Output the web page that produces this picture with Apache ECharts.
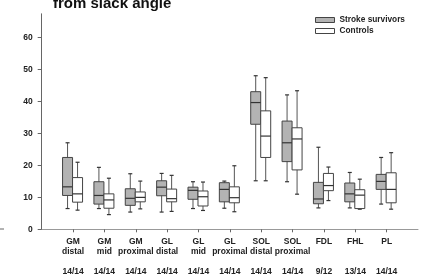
<!DOCTYPE html>
<html>
<head>
<meta charset="utf-8">
<script src="https://cdn.jsdelivr.net/npm/echarts@6/dist/echarts.min.js"></script>
<style>
html, body { margin: 0; padding: 0; background: #fff; }
#chart { width: 422px; height: 279px; }
</style>
</head>
<body>
<div id="chart"></div>
<script>
// muscle sites, counts under each
const categories = ["GM\ndistal", "GM\nmid", "GM\nproximal", "GL\ndistal", "GL\nmid", "GL\nproximal",
  "SOL\ndistal", "SOL\nproximal", "FDL", "FHL", "PL"]
const counts = ["14/14", "14/14", "14/14", "14/14", "14/14", "14/14", "14/14", "14/14", "9/12", "13/14", "14/14"]

// [min, q1, median, q3, max]
const stroke = [
  [6.5, 10.6, 13.3, 22.5, 27.1],
  [6.5, 7.9, 10.6, 14.9, 19.4],
  [5.4, 7.5, 9.7, 12.7, 17.4],
  [5.4, 10.5, 13.2, 15.2, 17.5],
  [6.5, 9.4, 12.2, 13.2, 14.9],
  [6.6, 8.6, 12.5, 14.6, 15.1],
  [15.2, 32.9, 39.7, 43.1, 48.1],
  [14.9, 21.2, 27.1, 33.9, 42.1],
  [6.7, 8.0, 9.5, 14.7, 25.7],
  [6.7, 8.6, 11.1, 14.5, 17.8],
  [7.9, 12.5, 15.0, 17.2, 22.5]
]
const controls = [
  [6.0, 8.5, 11.1, 16.2, 21.0],
  [4.6, 6.6, 9.2, 11.1, 16.0],
  [6.4, 8.6, 10.0, 11.7, 15.1],
  [5.6, 8.6, 9.6, 12.6, 16.9],
  [5.9, 7.3, 10.2, 12.0, 14.8],
  [5.5, 8.3, 9.9, 13.3, 19.9],
  [15.2, 22.5, 29.2, 37.1, 47.5],
  [11.0, 18.6, 28.3, 31.8, 43.4],
  [9.0, 12.1, 13.7, 17.5, 19.5],
  [6.3, 6.5, 10.7, 12.4, 15.7],
  [6.3, 8.3, 12.5, 17.7, 24.0]
]
const yTicks = [0, 10, 20, 30, 40, 50, 60]

// empty slots at both ends give the axis its padding
const axisCats = [" "].concat(categories, ["  "])
const lastIdx = axisCats.length - 1

function boxRenderer(offset, fill) {
  return function (params, api) {
    const x = api.value(0)
    const pMin = api.coord([x, api.value(1)])
    const pQ1 = api.coord([x, api.value(2)])
    const pMed = api.coord([x, api.value(3)])
    const pQ3 = api.coord([x, api.value(4)])
    const pMax = api.coord([x, api.value(5)])
    const left = pMin[0] + offset
    const w = 10
    const cx = left + w / 2
    const line = { stroke: "#555", lineWidth: 1 }
    return {
      type: "group",
      children: [
        { type: "line", shape: { x1: cx, y1: pMax[1], x2: cx, y2: pMin[1] }, style: line },
        { type: "line", shape: { x1: cx - 2, y1: pMax[1], x2: cx + 2, y2: pMax[1] }, style: { stroke: "#333", lineWidth: 1.2 } },
        { type: "line", shape: { x1: cx - 2, y1: pMin[1], x2: cx + 2, y2: pMin[1] }, style: { stroke: "#333", lineWidth: 1.2 } },
        { type: "rect", shape: { x: left, y: pQ3[1], width: w, height: pQ1[1] - pQ3[1] },
          style: { fill: fill, stroke: "#444", lineWidth: 1 } },
        { type: "line", shape: { x1: left, y1: pMed[1], x2: left + w, y2: pMed[1] }, style: { stroke: "#333", lineWidth: 1.2 } }
      ]
    }
  }
}

let myChart = echarts.init(document.getElementById("chart"))
myChart.setOption({
  animation: false,
  textStyle: { fontFamily: "Liberation Sans, Arial, sans-serif" },
  graphic: [
    {
      type: "text", left: 53, top: -4,
      style: { text: "from slack angle", font: "bold 15px 'Liberation Sans', Arial, sans-serif", fill: "#111" }
    },
    { type: "line", shape: { x1: 0, y1: 229, x2: 4, y2: 229 }, style: { stroke: "#666", lineWidth: 1 } }
  ],
  legend: {
    orient: "vertical",
    left: 310,
    top: 10,
    itemWidth: 19,
    itemHeight: 5,
    itemGap: 1,
    textStyle: { fontSize: 8.3, fontWeight: "bold", color: "#222", lineHeight: 10 },
    data: [
      { name: "Stroke survivors", icon: "rect", itemStyle: { color: "#b3b3b3", borderColor: "#444", borderWidth: 1 } },
      { name: "Controls", icon: "rect", itemStyle: { color: "#fff", borderColor: "#444", borderWidth: 1 } }
    ]
  },
  grid: { left: 41.7, right: 4, top: 13.8, bottom: 49.7, containLabel: false },
  xAxis: {
    type: "category",
    data: axisCats,
    boundaryGap: false,
    axisLine: { lineStyle: { color: "#999", width: 1 } },
    axisTick: { length: 3, interval: (i) => i > 0 && i < lastIdx, lineStyle: { color: "#666" } },
    axisLabel: {
      interval: (i) => i > 0 && i < lastIdx,
      margin: 7,
      fontSize: 8.5,
      fontWeight: "bold",
      color: "#222",
      lineHeight: 10,
      formatter: (v, i) => {
        const k = categories.indexOf(v)
        if (k < 0) return ""
        const name = v.indexOf("\n") < 0 ? v + "\n" : v
        return name + "\n\n" + counts[k]
      }
    }
  },
  yAxis: {
    type: "value",
    min: 0,
    max: 67.5,
    interval: 10,
    splitLine: { show: false },
    axisLine: { show: true, lineStyle: { color: "#666" } },
    axisTick: { show: true, length: 4, customValues: yTicks, lineStyle: { color: "#666" } },
    axisLabel: {
      customValues: yTicks,
      margin: 9,
      fontSize: 8.5,
      fontWeight: "bold",
      color: "#222",
      formatter: (v) => (v % 10 === 0 && v <= 60 ? String(v) : "")
    }
  },
  series: [
    {
      name: "Stroke survivors",
      type: "custom",
      itemStyle: { color: "#b3b3b3", borderColor: "#444" },
      encode: { x: 0, y: [1, 2, 3, 4, 5] },
      renderItem: boxRenderer(-10.5, "#b3b3b3"),
      data: stroke.map((d, i) => [categories[i]].concat(d))
    },
    {
      name: "Controls",
      type: "custom",
      itemStyle: { color: "#fff", borderColor: "#444" },
      encode: { x: 0, y: [1, 2, 3, 4, 5] },
      renderItem: boxRenderer(-0.5, "#fff"),
      data: controls.map((d, i) => [categories[i]].concat(d))
    }
  ]
})
</script>
</body>
</html>
